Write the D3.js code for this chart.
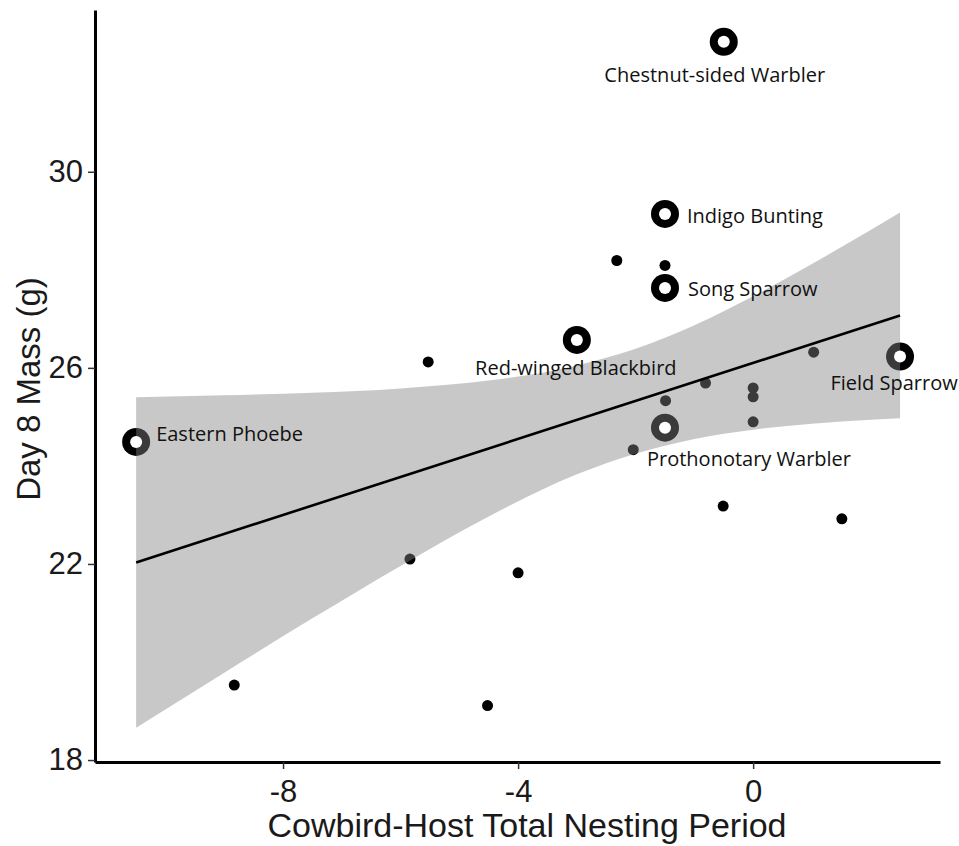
<!DOCTYPE html>
<html>
<head>
<meta charset="utf-8">
<script src="https://cdn.jsdelivr.net/npm/d3@7"></script>
<style>
  html, body { margin: 0; padding: 0; background: #ffffff; }
  svg { display: block; }
</style>
</head>
<body>
<svg id="chart" width="959" height="846"></svg>
<script>
// ---- data ----
const hostNames = ["Eastern Phoebe", "Red-winged Blackbird", "Indigo Bunting", "Song Sparrow",
                   "Prothonotary Warbler", "Chestnut-sided Warbler", "Field Sparrow"];
const hostX = [-10.5, -3.0, -1.5, -1.5, -1.5, -0.5, 2.5];
const hostY = [24.49, 26.57, 29.14, 27.63, 24.78, 32.65, 26.23];

const otherX = [-8.83, -5.84, -5.53, -4.52, -4.0, -2.32, -2.04, -1.5, -1.49, -0.81, -0.51, 0, 0, 0, 1.03, 1.51];
const otherY = [19.53, 22.10, 26.12, 19.11, 21.82, 28.19, 24.33, 28.09, 25.33, 25.69, 23.18, 25.59, 25.41, 24.90, 26.32, 22.92];

const fitX = [-10.5, 2.5];
const fitY = [22.03, 27.07];

const bandX    = [-10.5, -9, -7.5, -6, -4.5, -3, -2, -1, 0, 1, 2, 2.5];
const bandLow  = [18.66, 19.78, 20.89, 21.96, 22.97, 23.83, 24.25, 24.55, 24.74, 24.86, 24.94, 24.97];
const bandHigh = [25.40, 25.44, 25.49, 25.58, 25.74, 26.05, 26.39, 26.87, 27.46, 28.12, 28.81, 29.17];

const xTicks = [-8, -4, 0];
const yTicks = [18, 22, 26, 30];

const xTitle = "Cowbird-Host Total Nesting Period";
const yTitle = "Day 8 Mass (g)";

// ---- layout ----
const labelLayout = {
  "Eastern Phoebe":         { dx: 20,  dy: -1, anchor: "start" },
  "Red-winged Blackbird":   { dx: -1,  dy: 35, anchor: "middle" },
  "Indigo Bunting":         { dx: 22,  dy: 9,  anchor: "start" },
  "Song Sparrow":           { dx: 23,  dy: 8.5, anchor: "start" },
  "Prothonotary Warbler":   { dx: 84,  dy: 38, anchor: "middle" },
  "Chestnut-sided Warbler": { dx: -9,  dy: 40, anchor: "middle" },
  "Field Sparrow":          { dx: -6,  dy: 33, anchor: "middle" }
};

const svg = d3.select("#chart");
const x = d3.scaleLinear().domain([-11.2, 3.18]).range([95, 940]);
const y = d3.scaleLinear().domain([17.96, 33.3]).range([762, 10]);

const hosts = hostNames.map((n, i) => ({ name: n, x: hostX[i], y: hostY[i] }));
const others = otherX.map((v, i) => ({ x: v, y: otherY[i] }));
const band = bandX.map((v, i) => ({ x: v, lo: bandLow[i], hi: bandHigh[i] }));
const fit = fitX.map((v, i) => ({ x: v, y: fitY[i] }));

// points (drawn beneath the confidence band)
svg.append("g").selectAll("circle").data(others).join("circle")
  .attr("cx", d => x(d.x)).attr("cy", d => y(d.y)).attr("r", 5.5)
  .attr("fill", "#000");

svg.append("g").selectAll("circle").data(hosts).join("circle")
  .attr("cx", d => x(d.x)).attr("cy", d => y(d.y)).attr("r", 14)
  .attr("fill", "#000");

// confidence band
svg.append("path").datum(band)
  .attr("d", d3.area().x(d => x(d.x)).y0(d => y(d.lo)).y1(d => y(d.hi)).curve(d3.curveMonotoneX))
  .attr("fill", "#838383").attr("fill-opacity", 0.443);

// fitted line
svg.append("path").datum(fit)
  .attr("d", d3.line().x(d => x(d.x)).y(d => y(d.y)))
  .attr("fill", "none").attr("stroke", "#000").attr("stroke-width", 2.6);

// white centres of the highlighted hosts
svg.append("g").selectAll("circle").data(hosts).join("circle")
  .attr("cx", d => x(d.x)).attr("cy", d => y(d.y)).attr("r", 6)
  .attr("fill", "#fff");

// labels
svg.append("g").selectAll("text").data(hosts).join("text")
  .attr("x", d => x(d.x) + labelLayout[d.name].dx)
  .attr("y", d => y(d.y) + labelLayout[d.name].dy)
  .attr("text-anchor", d => labelLayout[d.name].anchor)
  .attr("font-family", "'Open Sans', sans-serif")
  .attr("font-size", 20)
  .attr("fill", "#111")
  .text(d => d.name);

// axes
const xAxis = d3.axisBottom(x).tickValues(xTicks).tickFormat(d => String(d))
  .tickSize(7).tickSizeOuter(0).tickPadding(11);
const yAxis = d3.axisLeft(y).tickValues(yTicks).tickFormat(d => String(d))
  .tickSize(7).tickSizeOuter(0).tickPadding(5);

const gx = svg.append("g").attr("transform", "translate(0,762)").call(xAxis);
const gy = svg.append("g").attr("transform", "translate(95,0)").call(yAxis);

[gx, gy].forEach(g => {
  g.select(".domain").attr("stroke", "#000").attr("stroke-width", 3);
  g.selectAll(".tick line").attr("stroke", "#333").attr("stroke-width", 1.5);
  g.selectAll(".tick text")
    .attr("font-family", "'Liberation Sans', Arial, sans-serif")
    .attr("font-size", 31).attr("fill", "#1a1a1a");
});

// axis titles
svg.append("text")
  .attr("x", 527).attr("y", 837)
  .attr("text-anchor", "middle")
  .attr("font-family", "'Liberation Sans', Arial, sans-serif")
  .attr("font-size", 34).attr("fill", "#1a1a1a")
  .text(xTitle);

svg.append("text")
  .attr("transform", "translate(40,389) rotate(-90)")
  .attr("text-anchor", "middle")
  .attr("font-family", "'Liberation Sans', Arial, sans-serif")
  .attr("font-size", 33).attr("fill", "#1a1a1a")
  .text(yTitle);
</script>
</body>
</html>
